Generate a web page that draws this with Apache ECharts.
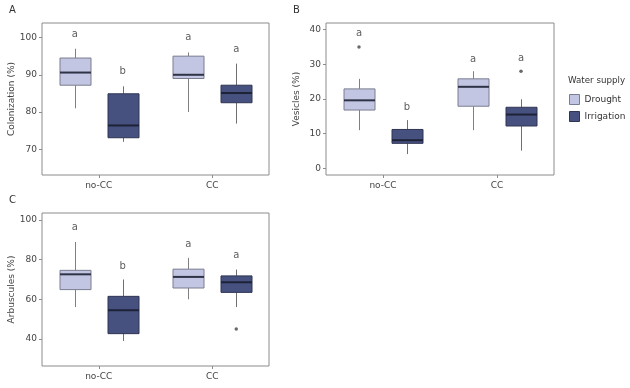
<!DOCTYPE html>
<html>
<head>
<meta charset="utf-8">
<script src="https://cdn.jsdelivr.net/npm/echarts@6/dist/echarts.min.js"></script>
<style>html,body{margin:0;padding:0;background:#fff}#c{width:630px;height:388px}</style>
</head>
<body>
<div id="c"></div>
<script>
// ---------- data ----------
const categories = ['no-CC', 'CC'];
const groups = ['Drought', 'Irrigation'];

// box stats [min, Q1, median, Q3, max] per category
const colonDrought    = [[81.0, 87.2, 90.6, 94.5, 97.0], [80.0, 89.0, 90.0, 95.0, 96.0]];
const colonIrrigation = [[72.0, 73.1, 76.4, 84.9, 86.9], [76.9, 82.5, 85.1, 87.2, 93.0]];
const colonOutDrought = [];
const colonOutIrrigation = [];
const colonLetterDrought = [['a', 100.8], ['a', 99.9]];
const colonLetterIrrigation = [['b', 91.0], ['a', 96.8]];
const colonTicks = [70, 80, 90, 100];

const vesDrought    = [[11.0, 16.8, 19.6, 22.9, 25.8], [11.0, 17.9, 23.5, 25.8, 28.0]];
const vesIrrigation = [[4.1, 7.2, 8.1, 11.2, 13.9], [5.1, 12.2, 15.5, 17.6, 19.9]];
const vesOutDrought = [[0, 35.0]];
const vesOutIrrigation = [[1, 28.0]];
const vesLetterDrought = [['a', 38.8], ['a', 31.5]];
const vesLetterIrrigation = [['b', 17.7], ['a', 31.8]];
const vesTicks = [0, 10, 20, 30, 40];

const arbDrought    = [[56.1, 64.9, 72.6, 74.6, 88.9], [60.0, 65.7, 71.3, 75.2, 80.9]];
const arbIrrigation = [[39.0, 42.7, 54.5, 61.5, 70.0], [56.1, 63.5, 68.6, 71.8, 75.0]];
const arbOutDrought = [];
const arbOutIrrigation = [[1, 45.0]];
const arbLetterDrought = [['a', 96.0], ['a', 87.8]];
const arbLetterIrrigation = [['b', 76.7], ['a', 82.0]];
const arbTicks = [40, 60, 80, 100];

// ---------- styles ----------
const FONT = 'DejaVu Sans';
const fillD = '#c3c6e2', borderD = '#7a7d90', medD = '#2e3346', whiskD = '#808080';
const fillI = '#46517f', borderI = '#2f3552', medI = '#1d2236', whiskI = '#707070';
const DODGE = 24, BOXW = 31;

const panels = [
  {label: 'A', name: 'Colonization (%)', grid: {left: 42, top: 23, width: 227, height: 152}, min: 63.1, max: 103.9,
   ticks: colonTicks, d: colonDrought, i: colonIrrigation, od: colonOutDrought, oi: colonOutIrrigation,
   ld: colonLetterDrought, li: colonLetterIrrigation},
  {label: 'B', name: 'Vesicles (%)', grid: {left: 326, top: 23, width: 228, height: 152}, min: -1.93, max: 41.9,
   ticks: vesTicks, d: vesDrought, i: vesIrrigation, od: vesOutDrought, oi: vesOutIrrigation,
   ld: vesLetterDrought, li: vesLetterIrrigation},
  {label: 'C', name: 'Arbuscules (%)', grid: {left: 42, top: 213, width: 227, height: 153}, min: 26.4, max: 103.5,
   ticks: arbTicks, d: arbDrought, i: arbIrrigation, od: arbOutDrought, oi: arbOutIrrigation,
   ld: arbLetterDrought, li: arbLetterIrrigation}
];

function boxRenderer(off, fill, border, med, whisk) {
  return function (params, api) {
    const c = api.value(0);
    const x = Math.round(api.coord([c, api.value(1)])[0] + off) + 0.5;
    const y = (i) => api.coord([c, api.value(i)])[1];
    const yMin = y(1), yQ1 = y(2), yMed = y(3), yQ3 = y(4), yMax = y(5);
    const h = BOXW / 2;
    return {
      type: 'group',
      children: [
        {type: 'line', shape: {x1: x, y1: yMin, x2: x, y2: yQ1}, style: {stroke: whisk, lineWidth: 1}},
        {type: 'line', shape: {x1: x, y1: yQ3, x2: x, y2: yMax}, style: {stroke: whisk, lineWidth: 1}},
        {type: 'rect', shape: {x: x - h, y: yQ3, width: BOXW, height: yQ1 - yQ3},
          style: {fill: fill, stroke: border, lineWidth: 1}},
        {type: 'line', shape: {x1: x - h, y1: yMed, x2: x + h, y2: yMed}, style: {stroke: med, lineWidth: 2}}
      ]
    };
  };
}

const grids = [], xAxes = [], yAxes = [], series = [], titles = [];

panels.forEach((p, k) => {
  grids.push(Object.assign({show: true, borderColor: '#8c8c8c', borderWidth: 1, backgroundColor: 'transparent'}, p.grid));
  xAxes.push({
    type: 'category', gridIndex: k, data: categories, position: 'bottom',
    axisLine: {show: false, onZero: false},
    axisTick: {show: true, alignWithLabel: true, length: 3, lineStyle: {color: '#8c8c8c'}},
    axisLabel: {color: '#444', fontFamily: FONT, fontSize: 9, margin: 6},
    splitLine: {show: false}
  });
  yAxes.push({
    type: 'value', gridIndex: k, min: p.min, max: p.max,
    name: p.name, nameLocation: 'middle', nameGap: 25,
    nameTextStyle: {color: '#444', fontFamily: FONT, fontSize: 9},
    axisLine: {show: false, onZero: false},
    axisTick: {show: true, length: 3, lineStyle: {color: '#8c8c8c'}, customValues: p.ticks},
    axisLabel: {color: '#444', fontFamily: FONT, fontSize: 9, margin: 5, customValues: p.ticks},
    splitLine: {show: false}
  });
  titles.push({text: p.label, left: p.grid.left - 33, top: p.grid.top - 18, padding: 0,
    textStyle: {fontFamily: FONT, fontSize: 10, fontWeight: 'normal', color: '#333'}});

  [['Drought', p.d, -DODGE, fillD, borderD, medD, whiskD], ['Irrigation', p.i, DODGE, fillI, borderI, medI, whiskI]]
    .forEach(([nm, vals, off, fill, bc, md, wk]) => {
      series.push({
        name: nm, type: 'custom', xAxisIndex: k, yAxisIndex: k,
        data: vals.map((v, c) => [c].concat(v)),
        encode: {x: 0, y: [1, 2, 3, 4, 5]},
        itemStyle: {color: fill, borderColor: bc},
        renderItem: boxRenderer(off, fill, bc, md, wk),
        silent: true
      });
    });
  // outliers
  [[p.od, -DODGE], [p.oi, DODGE]].forEach(([pts, off], gi) => {
    series.push({
      name: groups[gi], type: 'scatter', xAxisIndex: k, yAxisIndex: k,
      data: pts.map(q => [q[0], q[1]]),
      symbol: 'circle', symbolSize: 3.5, symbolOffset: [off, 0],
      itemStyle: {color: '#444'}, silent: true
    });
  });
  // letters
  [[p.ld, -DODGE], [p.li, DODGE]].forEach(([lts, off], gi) => {
    series.push({
      name: groups[gi], type: 'scatter', xAxisIndex: k, yAxisIndex: k,
      data: lts.map((q, c) => ({value: [c, q[1]], letter: q[0]})),
      symbolSize: 0.01, silent: true,
      label: {show: true, position: 'inside', offset: [off, 0],
        formatter: (pr) => pr.data.letter, color: '#333', fontFamily: FONT, fontSize: 10}
    });
  });
});

titles.push({text: 'Water supply', left: 568, top: 76, padding: 0,
  textStyle: {fontFamily: FONT, fontSize: 8.7, fontWeight: 'normal', color: '#333'}});

const chart = echarts.init(document.getElementById('c'), null, {renderer: 'canvas'});
chart.setOption({
  animation: false,
  backgroundColor: '#fff',
  title: titles,
  grid: grids,
  xAxis: xAxes,
  yAxis: yAxes,
  legend: {
    data: [
      {name: 'Drought', icon: 'rect', itemStyle: {color: fillD, borderColor: borderD, borderWidth: 1}},
      {name: 'Irrigation', icon: 'rect', itemStyle: {color: fillI, borderColor: borderI, borderWidth: 1}}
    ],
    orient: 'vertical', left: 569, top: 94, padding: 0, itemWidth: 10, itemHeight: 10, itemGap: 6,
    selectedMode: false,
    textStyle: {fontFamily: FONT, fontSize: 9, color: '#333'}
  },
  series: series
});
</script>
</body>
</html>
